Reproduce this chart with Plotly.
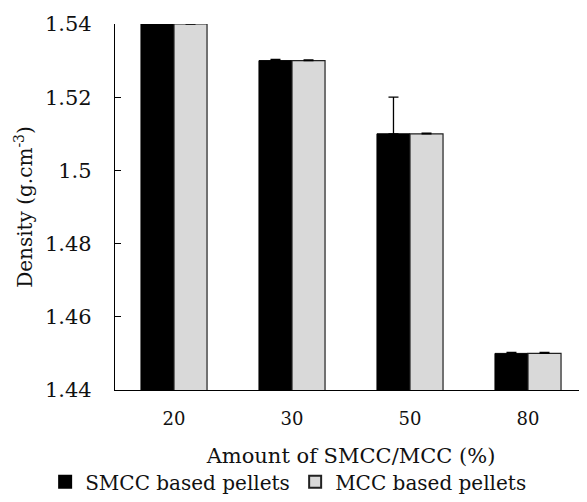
import plotly.graph_objects as go

categories = ["20", "30", "50", "80"]
smcc_values = [1.54, 1.53, 1.51, 1.45]
mcc_values = [1.54, 1.53, 1.51, 1.45]
smcc_err = [0.0003, 0.0003, 0.01, 0.0003]
mcc_err = [0.0002, 0.0002, 0.0002, 0.0003]
y_tickvals = [1.44, 1.46, 1.48, 1.50, 1.52, 1.54]
y_ticktext = ["1.44", "1.46", "1.48", "1.5", "1.52", "1.54"]

FONT = "DejaVu Serif"

fig = go.Figure()
fig.add_trace(go.Bar(
    x=categories, y=smcc_values, name="SMCC based pellets",
    marker=dict(color="black", line=dict(color="black", width=1)),
    error_y=dict(type="data", array=smcc_err, arrayminus=[0, 0, 0, 0],
                 symmetric=False, color="black", thickness=1.3, width=5),
))
fig.add_trace(go.Bar(
    x=categories, y=mcc_values, name="MCC based pellets",
    marker=dict(color="#d9d9d9", line=dict(color="#222222", width=1.2)),
    error_y=dict(type="data", array=mcc_err, arrayminus=[0, 0, 0, 0],
                 symmetric=False, color="black", thickness=1.3, width=5),
))

fig.update_layout(
    width=579, height=494,
    margin=dict(l=107, r=0, t=16, b=112),
    paper_bgcolor="white", plot_bgcolor="white",
    barmode="group", bargap=0.44, bargroupgap=0,
    font=dict(family=FONT, size=20, color="#111111"),
    showlegend=True,
    legend=dict(orientation="h", x=-0.148, xanchor="left",
                y=-0.251, yanchor="middle",
                font=dict(family=FONT, size=20, color="#111111"),
                entrywidth=205, entrywidthmode="pixels",
                itemsizing="constant", tracegroupgap=0),
    xaxis=dict(
        showline=True, linecolor="black", linewidth=1.3,
        ticks="", showgrid=False, ticklabelstandoff=12,
        tickfont=dict(family=FONT, size=18),
        title=dict(text="Amount of SMCC/MCC (%)", standoff=20,
                   font=dict(family=FONT, size=21)),
    ),
    yaxis=dict(
        range=[1.44, 1.54], tickvals=y_tickvals, ticktext=y_ticktext,
        showline=True, linecolor="black", linewidth=1.3,
        ticks="inside", ticklen=6, tickwidth=1.3, tickcolor="black",
        showgrid=False, zeroline=False, ticklabelstandoff=18,
        tickfont=dict(family=FONT, size=21),
        title=dict(text="Density (g.cm<sup>-3</sup>)", standoff=6,
                   font=dict(family=FONT, size=20)),
    ),
)

fig.write_html("out.html")
